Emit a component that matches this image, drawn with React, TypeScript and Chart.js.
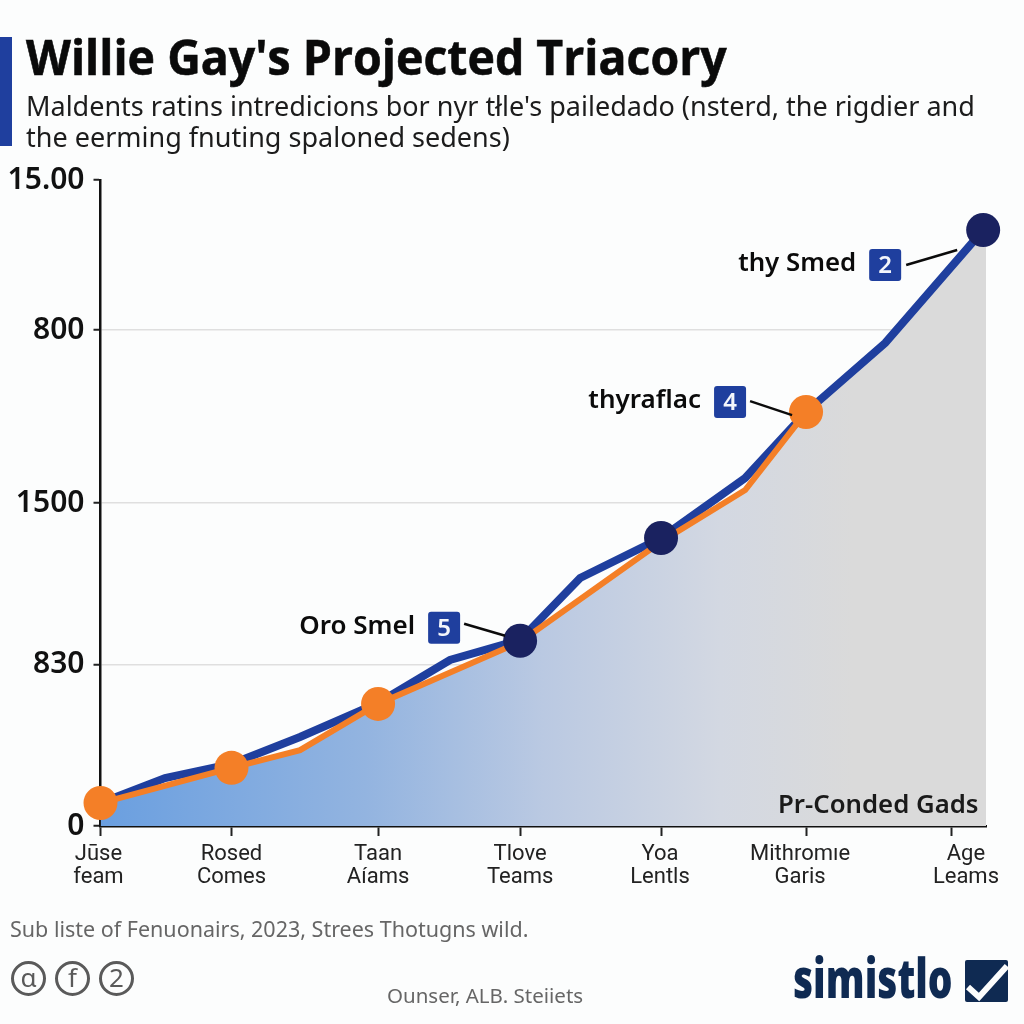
import React, { useEffect, useRef } from "react";
import { Chart, registerables } from "chart.js";

Chart.register(...registerables);

const xTickValues = [0, 0.923, 1.956, 2.957, 3.95, 4.972, 6.0];
const xTickLabels = [["Jūse", "feam"], ["Rosed", "Comes"], ["Taan", "Aíams"], ["Tlove", "Teams"], ["Yoa", "Lentls"], ["Mithromıe", "Garis"], ["Age", "Leams"]];
const xLabelNudge = [-2, 0, 0, 0, -1, -6, 14];
const yTickValues = [0, 1, 2, 3.071, 4];
const yTickLabels = ["0", "830", "1500", "800", "15.00"];

const blueX = [0, 0.455, 0.923, 1.406, 1.956, 2.463, 2.957, 3.38, 3.95, 4.543, 4.972, 5.53, 6.22];
const blueY = [0.142, 0.297, 0.384, 0.551, 0.762, 1.028, 1.152, 1.536, 1.783, 2.155, 2.563, 2.991, 3.69];
const orangeX = [0, 0.923, 1.406, 1.956, 2.957, 3.95, 4.543, 4.972];
const orangeY = [0.142, 0.36, 0.47, 0.756, 1.14, 1.76, 2.08, 2.563];
const areaTailX = [5.53, 6.22, 6.24];
const areaTailY = [2.991, 3.69, 3.71];
const markerX = [0, 0.923, 1.956, 2.957, 3.95, 4.972, 6.22];
const markerY = [0.142, 0.36, 0.756, 1.147, 1.783, 2.563, 3.69];
const markerKinds = ["o", "o", "o", "n", "n", "o", "n"];
const callouts = [
  { marker: 3, text: "Oro Smel", badge: "5" },
  { marker: 5, text: "thyraflac", badge: "4" },
  { marker: 6, text: "thy Smed", badge: "2" },
];

const BLUE = "#1f3f9e";
const NAVY = "#1a2260";
const ORANGE = "#f47f27";
const PAGE = "#fcfdfd";
const zip = (xs: number[], ys: number[]) => xs.map((x, i) => ({ x, y: ys[i] }));

const calloutGeom: Record<string, { tx: number; bx: number; by: number; l: number[] }> = {
  "5": { tx: -104, bx: -92, by: -29, l: [-56, -17, -15, -5] },
  "4": { tx: -104, bx: -92, by: -26, l: [-56, -11, -14, 3] },
  "2": { tx: -128, bx: -114, by: 19, l: [-77, 35, -26, 20] },
};

const stylePlugin = {
  id: "stylePlugin",
  beforeDraw(chart: any) {
    const { ctx, width, height } = chart;
    ctx.save();
    ctx.fillStyle = PAGE;
    ctx.fillRect(0, 0, width, height);
    ctx.restore();
    const items = chart.scales.x.getLabelItems(chart.chartArea);
    items.forEach((it: any, i: number) => {
      if (!it.nudged) {
        it.options.translation[0] += xLabelNudge[i] ?? 0;
        it.nudged = true;
      }
    });
  },
  afterDraw(chart: any) {
    const { ctx } = chart;
    const pts = chart.getDatasetMeta(3).data;
    ctx.save();
    callouts.forEach((c) => {
      const p = pts[c.marker];
      const g = calloutGeom[c.badge];
      ctx.strokeStyle = "#0b0b0b";
      ctx.lineWidth = 2.5;
      ctx.beginPath();
      ctx.moveTo(p.x + g.l[0], p.y + g.l[1]);
      ctx.lineTo(p.x + g.l[2], p.y + g.l[3]);
      ctx.stroke();
      const bx = p.x + g.bx;
      const by = p.y + g.by;
      ctx.fillStyle = BLUE;
      ctx.beginPath();
      ctx.roundRect(bx, by, 32, 32, 3);
      ctx.fill();
      ctx.fillStyle = "#f4f6fb";
      ctx.font = '600 24px "Noto Sans"';
      ctx.textAlign = "center";
      ctx.textBaseline = "middle";
      ctx.fillText(c.badge, bx + 16, by + 17);
      ctx.fillStyle = "#0b0b0b";
      ctx.font = '600 26px "Noto Sans"';
      ctx.textAlign = "right";
      ctx.fillText(c.text, bx - 13, by + 15, 118);
    });
    ctx.restore();
  },
};

export default function App() {
  const ref = useRef<HTMLCanvasElement>(null);
  useEffect(() => {
    document.body.style.margin = "0";
    document.body.style.background = PAGE;
    const chart = new Chart(ref.current!, {
      type: "line",
      data: {
        datasets: [
          {
            label: "Area",
            data: zip([...orangeX, ...areaTailX], [...orangeY, ...areaTailY]),
            borderWidth: 0,
            pointRadius: 0,
            tension: 0,
            fill: "origin",
            order: 4,
            backgroundColor: (c: any) => {
              const a = c.chart.chartArea;
              if (!a) return "#cccccc";
              const g = c.chart.ctx.createLinearGradient(a.left, 0, a.right, 0);
              g.addColorStop(0, "#6a9fe0");
              g.addColorStop(0.3, "#93b4e0");
              g.addColorStop(0.5, "#bac9e2");
              g.addColorStop(0.7, "#d3d8e2");
              g.addColorStop(0.85, "#dadada");
              g.addColorStop(1, "#dadada");
              return g;
            },
          },
          {
            label: "Blue",
            data: zip(blueX, blueY),
            borderColor: BLUE,
            borderWidth: 8,
            pointRadius: 0,
            tension: 0,
            fill: false,
            order: 3,
            clip: false,
          },
          {
            label: "Orange",
            data: zip(orangeX, orangeY),
            borderColor: ORANGE,
            borderWidth: 6,
            pointRadius: 0,
            tension: 0,
            fill: false,
            order: 2,
            clip: false,
          },
          {
            label: "Markers",
            data: zip(markerX, markerY),
            showLine: false,
            pointRadius: 17,
            pointBorderWidth: 0,
            pointBackgroundColor: markerKinds.map((k) => (k === "o" ? ORANGE : NAVY)),
            order: 1,
            clip: false,
          },
        ],
      } as any,
      options: {
        animation: false,
        responsive: false,
        layout: { padding: { top: 180, right: 38, left: 0, bottom: 0 } },
        plugins: { legend: { display: false }, tooltip: { enabled: false } },
        scales: {
          x: {
            type: "linear",
            min: 0,
            max: 6.24,
            afterBuildTicks: (s: any) => {
              s.ticks = xTickValues.map((value) => ({ value }));
            },
            afterFit: (s: any) => {
              s.height = 198;
            },
            border: { color: "#111", width: 2.5 },
            grid: { drawOnChartArea: false, drawTicks: true, tickLength: 10, tickColor: "#222", tickWidth: 2 },
            ticks: {
              autoSkip: false,
              maxRotation: 0,
              padding: 7,
              color: "#222",
              font: { family: "Roboto", size: 22, lineHeight: 1.05 },
              callback: (_v: any, i: number) => xTickLabels[i],
            },
          },
          y: {
            type: "linear",
            min: 0,
            max: 4,
            afterBuildTicks: (s: any) => {
              s.ticks = yTickValues.map((value) => ({ value }));
            },
            afterFit: (s: any) => {
              s.width = 100.5;
            },
            border: { color: "#111", width: 2.5 },
            grid: {
              color: (c: any) => (c.index === 0 || c.index === 4 ? "rgba(0,0,0,0)" : "#dfdfdf"),
              lineWidth: 1.5,
              tickLength: 7,
              tickColor: "#222",
              tickWidth: 2,
            },
            ticks: {
              autoSkip: false,
              padding: 9,
              color: "#111",
              font: { family: "Noto Sans", size: 30, weight: "600" },
              callback: (_v: any, i: number) => yTickLabels[i],
            },
          },
        },
      } as any,
      plugins: [stylePlugin],
    });
    return () => chart.destroy();
  }, []);

  const abs = (o: React.CSSProperties): React.CSSProperties => ({ position: "absolute", whiteSpace: "nowrap", margin: 0, ...o });

  return (
    <div style={{ position: "absolute", left: 0, top: 0, width: 1024, height: 1024, overflow: "hidden", background: PAGE, fontFamily: '"Noto Sans"' }}>
      <canvas ref={ref} width={1024} height={1024} style={{ position: "absolute", left: 0, top: 0 }} />
      <div style={abs({ left: 0, top: 37, width: 12, height: 109, background: BLUE })} />
      <div style={abs({ left: 26, top: 22, fontFamily: '"Open Sans"', fontWeight: 700, fontSize: 49, lineHeight: "68px", color: "#0a0a0a", WebkitTextStroke: "0.6px #0a0a0a", transform: "scaleX(0.948)", transformOrigin: "left top" })}>
        Willie Gay's Projected Triacory
      </div>
      <div style={abs({ left: 26, top: 90, fontSize: 27, lineHeight: "31px", color: "#1c1c1c" })}>Maldents ratins intredicions bor nyr tłle's pailedado (nsterd, the rigdier and</div>
      <div style={abs({ left: 26, top: 121, fontSize: 27, lineHeight: "31px", color: "#1c1c1c" })}>the eerming fnuting spaloned sedens)</div>
      <div style={abs({ left: 778, top: 785, fontWeight: 600, fontSize: 26, lineHeight: "36px", color: "#1a1a1a", transform: "scaleX(0.99)", transformOrigin: "left top" })}>Pr-Conded Gads</div>
      <div style={abs({ left: 10, top: 914, fontSize: 21.5, lineHeight: "30px", color: "#666" })}>Sub liste of Fenuonairs, 2023, Strees Thotugns wild.</div>
      {["α", "f", "2"].map((t, i) => (
        <div key={t} style={abs({ left: 11 + i * 44, top: 961, width: 29, height: 29, border: "3px solid #5a5a5a", borderRadius: "50%", textAlign: "center", fontSize: 26, lineHeight: "27px", color: "#5a5a5a" })}>
          {t}
        </div>
      ))}
      <div style={abs({ left: 387, top: 981, fontSize: 20.5, lineHeight: "28px", color: "#666" })}>Ounser, ALB. Steiiets</div>
      <div style={abs({ left: 793, top: 942, fontFamily: '"Open Sans"', fontWeight: 800, fontSize: 54, lineHeight: "70px", color: "#0f2a52", transform: "scaleX(0.72)", transformOrigin: "left top" })}>simistlo</div>
      <svg width={44} height={43} style={abs({ left: 965, top: 960 })}>
        <rect x={0} y={0} width={43} height={42} rx={2} fill="#0f2a52" />
        <path d="M3 27 L14 37 L42 6" stroke={PAGE} strokeWidth={6} fill="none" />
      </svg>
    </div>
  );
}
